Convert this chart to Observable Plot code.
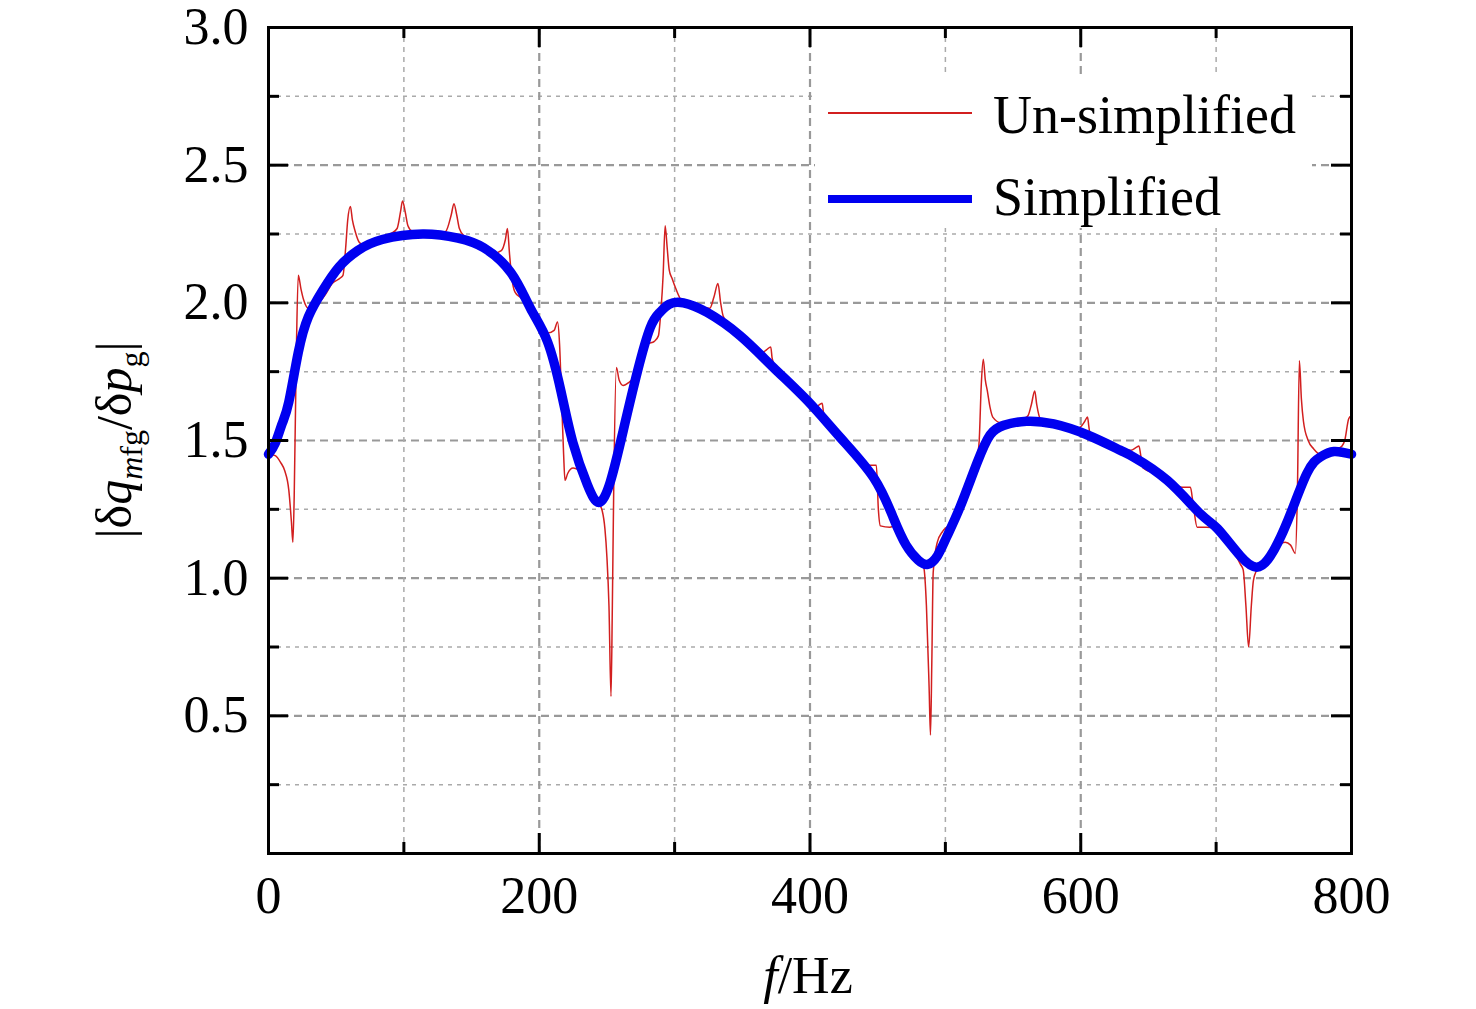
<!DOCTYPE html>
<html><head><meta charset="utf-8">
<script src="https://cdn.jsdelivr.net/npm/d3@7"></script>
<script src="https://cdn.jsdelivr.net/npm/@observablehq/plot@0.6"></script>
<style>html,body{margin:0;padding:0;background:#fff} svg{display:block}</style>
</head><body><div id="chart"></div>
<script>
const xMajorTicks = [0, 200, 400, 600, 800];
const xMinorTicks = [100, 300, 500, 700];
const yMajorTicks = [0.5, 1.0, 1.5, 2.0, 2.5, 3.0];
const yMinorTicks = [0.25, 0.75, 1.25, 1.75, 2.25, 2.75];
const xGridMajor = [200, 400, 600];
const yGridMajor = [0.5, 1.0, 1.5, 2.0, 2.5];
const seriesNames = ["Un-simplified", "Simplified"];

// Simplified model: [f (Hz), |dq/dp|]
const simplified = [[0,1.45],[5,1.49],[10,1.56],[15,1.64],[22,1.82],[29.5,1.95],[40,2.045],[52,2.13],[66,2.19],[84,2.23],[114,2.25],[140,2.235],[159,2.20],[179,2.11],[193.5,1.98],[206,1.86],[216,1.68],[225,1.49],[235.5,1.34],[244,1.275],[252.5,1.35],[262,1.535],[272.5,1.75],[282,1.91],[289,1.965],[296,1.995],[306.5,2.00],[324,1.965],[348.5,1.88],[373,1.765],[398,1.645],[422.5,1.51],[447,1.365],[461.5,1.22],[471,1.12],[480,1.065],[487,1.05],[494,1.08],[501,1.15],[511,1.26],[523.5,1.42],[533,1.52],[543,1.555],[560,1.57],[580,1.56],[605,1.52],[629,1.465],[639,1.44],[664,1.355],[688,1.235],[701,1.18],[718,1.08],[730,1.04],[740,1.08],[753,1.21],[767,1.38],[777,1.44],[787,1.46],[800,1.45]];

// Un-simplified model: [f (Hz), |dq/dp|]
const unsimplified = [[0,1.45],[5,1.445],[9,1.42],[12,1.39],[15,1.32],[17,1.20],[18,1.13],[19,1.30],[20.5,1.80],[22,2.10],[24,2.05],[26,2.01],[29.5,1.98],[35,1.99],[42,2.03],[47,2.07],[53,2.09],[55,2.10],[57,2.20],[58.5,2.30],[60.5,2.35],[62,2.30],[64,2.26],[67,2.22],[70,2.21],[80,2.23],[90,2.25],[95,2.27],[97.5,2.33],[99,2.37],[101,2.33],[103,2.28],[106,2.26],[115,2.25],[125,2.25],[131,2.26],[135,2.32],[137,2.36],[139,2.32],[141,2.27],[145,2.24],[155,2.21],[166,2.18],[172,2.19],[175,2.23],[176.5,2.27],[178,2.18],[179.5,2.10],[182,2.04],[186,2.02],[193,1.98],[200,1.93],[206,1.89],[211,1.90],[213.5,1.93],[215,1.85],[216.5,1.65],[218,1.45],[219,1.355],[221,1.38],[225,1.40],[230,1.39],[233,1.36],[240,1.29],[244,1.27],[246.5,1.245],[248.5,1.18],[250,1.075],[251.5,0.90],[253,0.57],[254,0.90],[255,1.32],[257,1.765],[259,1.72],[262,1.70],[266,1.71],[270,1.73],[275,1.80],[280,1.85],[285,1.86],[288,1.88],[290,1.98],[291.5,2.10],[293,2.28],[294.5,2.20],[296,2.12],[298,2.09],[301,2.05],[305,2.01],[315,1.99],[326,1.98],[329,2.02],[332,2.07],[334,2.00],[336,1.95],[345,1.90],[355,1.86],[365,1.82],[368,1.83],[371,1.84],[372,1.80],[374,1.77],[385,1.71],[395,1.66],[404,1.62],[407,1.63],[409,1.635],[410,1.60],[412,1.56],[420,1.52],[430,1.47],[442,1.41],[449,1.41],[450.5,1.25],[452,1.19],[459,1.185],[463,1.19],[470,1.13],[479,1.07],[484,1.04],[486,0.90],[488,0.60],[489,0.43],[490,0.70],[491,1.02],[494,1.13],[498,1.17],[504,1.20],[510,1.26],[516,1.33],[520,1.37],[522,1.38],[524,1.45],[525,1.50],[526.5,1.70],[528,1.795],[529.5,1.72],[531,1.68],[533,1.62],[535,1.585],[541,1.565],[550,1.57],[558,1.58],[561,1.59],[563.5,1.63],[566,1.68],[567.5,1.63],[570,1.58],[580,1.56],[595,1.54],[600,1.55],[603,1.57],[605,1.585],[606,1.55],[607,1.52],[615,1.50],[625,1.47],[637,1.465],[641,1.475],[643,1.48],[644.5,1.44],[646,1.40],[655,1.38],[665,1.35],[675,1.33],[681,1.33],[683,1.27],[686,1.185],[693,1.185],[700,1.18],[710,1.12],[718,1.05],[720,1.03],[722,0.90],[724,0.75],[726,0.90],[727.5,0.99],[730,1.03],[733,1.05],[740,1.08],[745,1.12],[751,1.13],[755,1.12],[758.5,1.09],[760,1.30],[761.5,1.79],[763,1.65],[764.5,1.57],[768,1.50],[772,1.47],[777,1.45],[785,1.46],[790,1.47],[793,1.48],[795,1.50],[798,1.58],[800,1.59]];

const W = 1476, H = 1009;
const mL = 268, mR = 125, mT = 27, mB = 156;
const pw = W - mL - mR, ph = H - mT - mB;
const FONT = "'Liberation Serif', 'Times New Roman', serif";
const RED = "#d21f1f", BLUE = "#0000f0";

const toRows = arr => arr.map(([f, v]) => ({f, v}));

const plot = Plot.plot({
  width: W, height: H,
  marginLeft: mL, marginRight: mR, marginTop: mT, marginBottom: mB,
  style: {fontFamily: FONT, fontSize: "52px", background: "#fff", color: "#000"},
  x: {domain: [0, 800]},
  y: {domain: [0, 3]},
  marks: [
    // grid
    Plot.ruleY(yMinorTicks, {stroke: "#aaaaaa", strokeWidth: 1.5, strokeDasharray: "4,5"}),
    Plot.ruleY(yGridMajor, {stroke: "#999999", strokeWidth: 2.2, strokeDasharray: "8,5"}),
    Plot.ruleX(xMinorTicks, {stroke: "#aaaaaa", strokeWidth: 1.5, strokeDasharray: "5,5"}),
    Plot.ruleX(xGridMajor, {stroke: "#999999", strokeWidth: 2.2, strokeDasharray: "8,5"}),
    // data
    Plot.line(toRows(unsimplified), {x: "f", y: "v", stroke: RED, strokeWidth: 1.5, curve: "monotone-x"}),
    Plot.line(toRows(simplified), {x: "f", y: "v", stroke: BLUE, strokeWidth: 9.5, curve: "natural"}),
    // inward ticks on all four sides
    Plot.ruleX(xMajorTicks, {stroke: "#000", strokeWidth: 3, insetTop: ph - 20}),
    Plot.ruleX(xMajorTicks, {stroke: "#000", strokeWidth: 3, insetBottom: ph - 20}),
    Plot.ruleX(xMinorTicks, {stroke: "#000", strokeWidth: 3, insetTop: ph - 11}),
    Plot.ruleX(xMinorTicks, {stroke: "#000", strokeWidth: 3, insetBottom: ph - 11}),
    Plot.ruleY(yMajorTicks, {stroke: "#000", strokeWidth: 3, insetRight: pw - 20}),
    Plot.ruleY(yMajorTicks, {stroke: "#000", strokeWidth: 3, insetLeft: pw - 20}),
    Plot.ruleY(yMinorTicks, {stroke: "#000", strokeWidth: 3, insetRight: pw - 11}),
    Plot.ruleY(yMinorTicks, {stroke: "#000", strokeWidth: 3, insetLeft: pw - 11}),
    Plot.frame({stroke: "#000", strokeWidth: 3}),
    // tick labels
    Plot.axisX({ticks: xMajorTicks, tickSize: 0, tickPadding: 23, fontSize: 52, label: null}),
    Plot.axisY({ticks: yMajorTicks, tickSize: 0, tickPadding: 20, fontSize: 52, label: null, tickFormat: d3.format(".1f")})
  ]
});

const svg = d3.select(plot);

// legend
const lg = svg.append("g").attr("font-family", FONT).attr("font-size", 54).attr("text-anchor", "start");
lg.append("rect").attr("x", 815).attr("y", 75).attr("width", 497).attr("height", 153).attr("fill", "#fff");
lg.append("line").attr("x1", 828).attr("x2", 972).attr("y1", 113).attr("y2", 113).attr("stroke", RED).attr("stroke-width", 2);
lg.append("line").attr("x1", 828).attr("x2", 972).attr("y1", 199).attr("y2", 199).attr("stroke", BLUE).attr("stroke-width", 8);
lg.append("text").attr("x", 993).attr("y", 133).attr("text-anchor", "start").text(seriesNames[0]);
lg.append("text").attr("x", 993).attr("y", 215).attr("text-anchor", "start").text(seriesNames[1]);

// x label
const xl = svg.append("text").attr("x", 808).attr("y", 993).attr("text-anchor", "middle")
  .attr("font-family", FONT).attr("font-size", 52);
xl.append("tspan").attr("font-style", "italic").text("f");
xl.append("tspan").text("/Hz");

// y label
const yl = svg.append("text").attr("transform", "translate(131,440) rotate(-90)").attr("text-anchor", "middle")
  .attr("font-family", FONT).attr("font-size", 50);
yl.append("tspan").text("|δ");
yl.append("tspan").attr("font-style", "italic").text("q");
yl.append("tspan").attr("font-style", "italic").attr("font-size", 32).attr("dy", 11).text("m");
yl.append("tspan").attr("font-size", 32).text("fg");
yl.append("tspan").attr("dy", -11).text("/δ");
yl.append("tspan").attr("font-style", "italic").text("p");
yl.append("tspan").attr("font-size", 32).attr("dy", 11).text("g");
yl.append("tspan").attr("dy", -11).text("|");

document.getElementById("chart").appendChild(plot);
</script>
</body></html>
